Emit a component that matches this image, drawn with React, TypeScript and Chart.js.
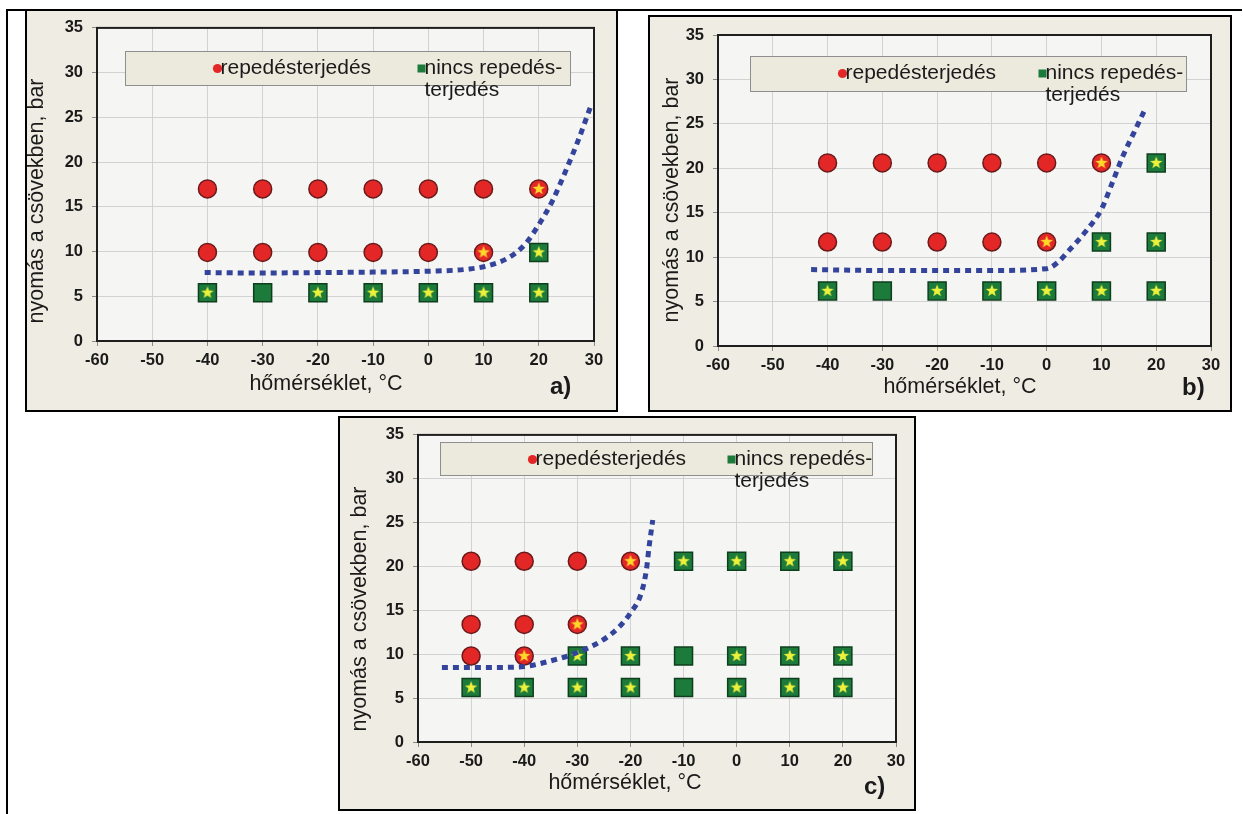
import React, { useEffect, useRef } from 'react';
import { Chart, registerables } from 'chart.js';

Chart.register(...registerables);

// ---------------- data ----------------
const X_MIN = -60;
const X_MAX = 30;
const X_STEP = 10;
const Y_MIN = 0;
const Y_MAX = 35;
const Y_STEP = 5;
const X_AXIS_TITLE = 'hőmérséklet, °C';
const Y_AXIS_TITLE = 'nyomás a csövekben, bar';
const LABEL_CRACK = 'repedésterjedés';
const LABEL_NO_CRACK = 'nincs repedés-\nterjedés';
const LABEL_CURVE = 'határgörbe';

// panel a)
const A_CRACK_X = [-40, -30, -20, -10, 0, 10, 20, -40, -30, -20, -10, 0, 10];
const A_CRACK_Y = [17, 17, 17, 17, 17, 17, 17, 9.9, 9.9, 9.9, 9.9, 9.9, 9.9];
const A_CRACK_STAR = [0, 0, 0, 0, 0, 0, 1, 0, 0, 0, 0, 0, 1];
const A_NOCRACK_X = [-40, -30, -20, -10, 0, 10, 20, 20];
const A_NOCRACK_Y = [5.4, 5.4, 5.4, 5.4, 5.4, 5.4, 5.4, 9.9];
const A_NOCRACK_STAR = [1, 0, 1, 1, 1, 1, 1, 1];
const A_CURVE_X = [-40.5, -30, -20, -10, 0, 7.5, 11, 14.5, 17.5, 20, 22.5, 25, 27, 29.5];
const A_CURVE_Y = [7.65, 7.6, 7.65, 7.7, 7.8, 8.05, 8.45, 9.3, 10.8, 13, 15.7, 19.2, 22.2, 26.4];

// panel b)
const B_CRACK_X = [-40, -30, -20, -10, 0, 10, -40, -30, -20, -10, 0];
const B_CRACK_Y = [20.6, 20.6, 20.6, 20.6, 20.6, 20.6, 11.7, 11.7, 11.7, 11.7, 11.7];
const B_CRACK_STAR = [0, 0, 0, 0, 0, 1, 0, 0, 0, 0, 1];
const B_NOCRACK_X = [20, 10, 20, -40, -30, -20, -10, 0, 10, 20];
const B_NOCRACK_Y = [20.6, 11.7, 11.7, 6.2, 6.2, 6.2, 6.2, 6.2, 6.2, 6.2];
const B_NOCRACK_STAR = [1, 1, 1, 1, 0, 1, 1, 1, 1, 1];
const B_CURVE_X = [-43, -30, -20, -10, 0, 2, 4, 7, 10, 12, 14, 16, 18];
const B_CURVE_Y = [8.6, 8.5, 8.5, 8.5, 8.7, 9.4, 10.7, 12.8, 15.4, 18.4, 21.5, 24.1, 26.7];

// panel c)
const C_CRACK_X = [-50, -40, -30, -20, -50, -40, -30, -50, -40];
const C_CRACK_Y = [20.6, 20.6, 20.6, 20.6, 13.4, 13.4, 13.4, 9.8, 9.8];
const C_CRACK_STAR = [0, 0, 0, 1, 0, 0, 1, 0, 1];
const C_NOCRACK_X = [-10, 0, 10, 20, -30, -20, -10, 0, 10, 20, -50, -40, -30, -20, -10, 0, 10, 20];
const C_NOCRACK_Y = [20.6, 20.6, 20.6, 20.6, 9.8, 9.8, 9.8, 9.8, 9.8, 9.8, 6.2, 6.2, 6.2, 6.2, 6.2, 6.2, 6.2, 6.2];
const C_NOCRACK_STAR = [1, 1, 1, 1, 1, 1, 0, 1, 1, 1, 1, 1, 1, 1, 0, 1, 1, 1];
const C_CURVE_X = [-55.5, -45, -40, -35, -30, -25, -22, -20, -18, -17, -16.5, -15.8];
const C_CURVE_Y = [8.5, 8.5, 8.6, 9.25, 10.2, 11.7, 13.2, 14.7, 16.9, 19.6, 22.2, 25.3];

// ---------------- styles ----------------
const FONT = '"Liberation Sans", Arial, Helvetica, sans-serif';
const TEXT = '#1a1a1a';
const PANEL_BG = '#EFEDE3';
const PLOT_BG = '#F5F5F4';
const GRID = '#D2D2D2';
const LEGEND_BG = '#ECE9DD';
const LEGEND_BORDER = '#8E8E8E';
const RED = '#E32727';
const RED_EDGE = '#6A1A1A';
const GREEN = '#1C7A3B';
const GREEN_EDGE = '#0D3F1D';
const CURVE = '#33449A';

function makeStar(color: string) {
  const c = document.createElement('canvas');
  c.width = 14;
  c.height = 14;
  const g = c.getContext('2d') as CanvasRenderingContext2D;
  g.beginPath();
  for (let i = 0; i < 10; i++) {
    const r = i % 2 === 0 ? 6.5 : 2.7;
    const a = -Math.PI / 2 + (i * Math.PI) / 5;
    const x = 7 + r * Math.cos(a);
    const y = 7 + r * Math.sin(a);
    if (i === 0) g.moveTo(x, y);
    else g.lineTo(x, y);
  }
  g.closePath();
  g.fillStyle = color;
  g.fill();
  return c;
}

type PanelDef = {
  letter: string;
  crackX: number[]; crackY: number[]; crackStar: number[];
  noX: number[]; noY: number[]; noStar: number[];
  curveX: number[]; curveY: number[];
  frame: { x: number; y: number; w: number; h: number };
  plot: { l: number; t: number; r: number; b: number };
  legend: { l: number; r: number; t: number; h: number; i1: number; i2: number };
  ytitle: { x: number; y: number };
  xtitle: { x: number; y: number };
  tag: { x: number; y: number };
};

const PANELS: PanelDef[] = [
  {
    letter: 'a)',
    crackX: A_CRACK_X, crackY: A_CRACK_Y, crackStar: A_CRACK_STAR,
    noX: A_NOCRACK_X, noY: A_NOCRACK_Y, noStar: A_NOCRACK_STAR,
    curveX: A_CURVE_X, curveY: A_CURVE_Y,
    frame: { x: 25, y: 9, w: 593, h: 403 },
    plot: { l: 72, t: 18, r: 24, b: 71 },
    legend: { l: 28, r: 24, t: 23, h: 34, i1: 92, i2: 296 },
    ytitle: { x: 12, y: 192 },
    xtitle: { x: 301, y: 381 },
    tag: { x: 525, y: 385 },
  },
  {
    letter: 'b)',
    crackX: B_CRACK_X, crackY: B_CRACK_Y, crackStar: B_CRACK_STAR,
    noX: B_NOCRACK_X, noY: B_NOCRACK_Y, noStar: B_NOCRACK_STAR,
    curveX: B_CURVE_X, curveY: B_CURVE_Y,
    frame: { x: 648, y: 15, w: 584, h: 397 },
    plot: { l: 70, t: 20, r: 21, b: 66 },
    legend: { l: 32, r: 25, t: 21, h: 35, i1: 92, i2: 292 },
    ytitle: { x: 24, y: 185 },
    xtitle: { x: 312, y: 378 },
    tag: { x: 534, y: 380 },
  },
  {
    letter: 'c)',
    crackX: C_CRACK_X, crackY: C_CRACK_Y, crackStar: C_CRACK_STAR,
    noX: C_NOCRACK_X, noY: C_NOCRACK_Y, noStar: C_NOCRACK_STAR,
    curveX: C_CURVE_X, curveY: C_CURVE_Y,
    frame: { x: 338, y: 416, w: 578, h: 395 },
    plot: { l: 80, t: 15, r: 20, b: 69 },
    legend: { l: 22, r: 24, t: 7, h: 33, i1: 92, i2: 291 },
    ytitle: { x: 22, y: 193 },
    xtitle: { x: 287, y: 373 },
    tag: { x: 526, y: 378 },
  },
];

function pts(xs: number[], ys: number[], keep?: number[]) {
  const out: { x: number; y: number }[] = [];
  xs.forEach((x, i) => {
    if (!keep || keep[i]) out.push({ x, y: ys[i] });
  });
  return out;
}

function makePlugin(p: PanelDef) {
  return {
    id: 'panelDecor',
    beforeDraw(chart: any) {
      const { ctx, width, height, chartArea: ca } = chart;
      ctx.save();
      ctx.fillStyle = PANEL_BG;
      ctx.fillRect(0, 0, width, height);
      ctx.fillStyle = PLOT_BG;
      ctx.fillRect(ca.left, ca.top, ca.right - ca.left, ca.bottom - ca.top);
      ctx.restore();
    },
    beforeDatasetsDraw(chart: any) {
      const { ctx, chartArea: ca } = chart;
      ctx.save();
      ctx.strokeStyle = '#1e1e1e';
      ctx.lineWidth = 2;
      ctx.strokeRect(ca.left, ca.top, ca.right - ca.left, ca.bottom - ca.top);
      const L = p.legend;
      const bx = Math.round(ca.left + L.l) + 0.5;
      const by = Math.round(ca.top + L.t) + 0.5;
      const bw = Math.round(ca.right - ca.left - L.l - L.r);
      ctx.fillStyle = LEGEND_BG;
      ctx.fillRect(bx, by, bw, L.h);
      ctx.strokeStyle = LEGEND_BORDER;
      ctx.lineWidth = 1;
      ctx.strokeRect(bx, by, bw, L.h);
      const ds = chart.data.datasets;
      const crackDs = ds.find((d: any) => d.label === LABEL_CRACK);
      const noDs = ds.find((d: any) => d.label === LABEL_NO_CRACK);
      ctx.font = `21px ${FONT}`;
      ctx.textAlign = 'left';
      ctx.textBaseline = 'alphabetic';
      const mY = by + 17;
      ctx.beginPath();
      ctx.arc(bx + L.i1, mY, 4.6, 0, Math.PI * 2);
      ctx.fillStyle = RED;
      ctx.fill();
      ctx.fillStyle = TEXT;
      ctx.fillText(crackDs.label, bx + L.i1 + 3, by + 22);
      ctx.fillStyle = GREEN;
      ctx.fillRect(bx + L.i2 - 4, mY - 4, 8, 8);
      ctx.fillStyle = TEXT;
      const lines = String(noDs.label).split('\n');
      lines.forEach((ln, i) => ctx.fillText(ln, bx + L.i2 + 3, by + 22 + i * 22));
      ctx.restore();
    },
    afterDraw(chart: any) {
      const { ctx, width, height } = chart;
      ctx.save();
      ctx.fillStyle = TEXT;
      ctx.font = `21.5px ${FONT}`;
      ctx.translate(p.ytitle.x, p.ytitle.y);
      ctx.rotate(-Math.PI / 2);
      ctx.textAlign = 'center';
      ctx.textBaseline = 'middle';
      ctx.fillText(Y_AXIS_TITLE, 0, 0);
      ctx.setTransform(1, 0, 0, 1, 0, 0);
      ctx.textBaseline = 'alphabetic';
      ctx.fillText(X_AXIS_TITLE, p.xtitle.x, p.xtitle.y);
      ctx.font = `bold 24px ${FONT}`;
      ctx.textAlign = 'left';
      ctx.fillText(p.letter, p.tag.x, p.tag.y);
      ctx.strokeStyle = '#000';
      ctx.lineWidth = 2;
      ctx.strokeRect(1, 1, width - 2, height - 2);
      ctx.restore();
    },
  };
}

function buildConfig(p: PanelDef, starWarm: HTMLCanvasElement, starCool: HTMLCanvasElement): any {
  const tickFont = { family: FONT, size: 16.5, weight: 'bold' as const };
  return {
    type: 'scatter',
    data: {
      datasets: [
        {
          type: 'line',
          label: LABEL_CURVE,
          data: pts(p.curveX, p.curveY),
          borderColor: CURVE,
          borderWidth: 5,
          borderDash: [6, 5],
          pointRadius: 0,
          fill: false,
          showLine: true,
          cubicInterpolationMode: 'monotone',
          order: 0,
        },
        {
          label: 'star-crack',
          data: pts(p.crackX, p.crackY, p.crackStar),
          pointStyle: starWarm,
          pointRadius: 7,
          order: 1,
        },
        {
          label: 'star-nocrack',
          data: pts(p.noX, p.noY, p.noStar),
          pointStyle: starCool,
          pointRadius: 7,
          order: 1,
        },
        {
          label: LABEL_CRACK,
          data: pts(p.crackX, p.crackY),
          pointStyle: 'circle',
          pointRadius: 9,
          backgroundColor: RED,
          borderColor: RED_EDGE,
          borderWidth: 1.5,
          order: 2,
        },
        {
          label: LABEL_NO_CRACK,
          data: pts(p.noX, p.noY),
          pointStyle: 'rect',
          pointRadius: 12.7,
          backgroundColor: GREEN,
          borderColor: GREEN_EDGE,
          borderWidth: 1.5,
          order: 2,
        },
      ],
    },
    options: {
      responsive: false,
      animation: false,
      events: [],
      layout: { padding: { left: 0, top: p.plot.t, right: p.plot.r, bottom: 0 } },
      plugins: { legend: { display: false }, tooltip: { enabled: false }, title: { display: false } },
      scales: {
        x: {
          type: 'linear',
          min: X_MIN,
          max: X_MAX,
          ticks: { stepSize: X_STEP, color: TEXT, font: tickFont, padding: 5, maxRotation: 0, autoSkip: false },
          grid: { color: GRID, lineWidth: 1, tickLength: 5, tickColor: '#8a8a8a' },
          border: { color: '#1e1e1e', width: 2 },
          afterFit: (s: any) => { s.height = p.plot.b; },
        },
        y: {
          type: 'linear',
          min: Y_MIN,
          max: Y_MAX,
          ticks: { stepSize: Y_STEP, color: TEXT, font: tickFont, padding: 9, autoSkip: false },
          grid: { color: GRID, lineWidth: 1, tickLength: 5, tickColor: '#8a8a8a' },
          border: { color: '#1e1e1e', width: 2 },
          afterFit: (s: any) => { s.width = p.plot.l; },
        },
      },
    },
    plugins: [makePlugin(p)],
  };
}

function PanelChart({ p }: { p: PanelDef }) {
  const ref = useRef<HTMLCanvasElement>(null);
  useEffect(() => {
    const starWarm = makeStar('#FFD92A');
    const starCool = makeStar('#ECF23C');
    const chart = new Chart(ref.current as HTMLCanvasElement, buildConfig(p, starWarm, starCool));
    return () => chart.destroy();
  }, [p]);
  return (
    <canvas
      ref={ref}
      width={p.frame.w}
      height={p.frame.h}
      style={{ position: 'absolute', left: p.frame.x, top: p.frame.y, width: p.frame.w, height: p.frame.h }}
    />
  );
}

export default function App() {
  return (
    <div style={{ position: 'absolute', left: 0, top: 0, width: 1243, height: 814, background: '#fff', overflow: 'hidden' }}>
      <div style={{ position: 'absolute', left: 6, top: 9, width: 1236, height: 2, background: '#000' }} />
      <div style={{ position: 'absolute', left: 6, top: 9, width: 2, height: 805, background: '#000' }} />
      {PANELS.map((p) => (
        <PanelChart key={p.letter} p={p} />
      ))}
    </div>
  );
}
